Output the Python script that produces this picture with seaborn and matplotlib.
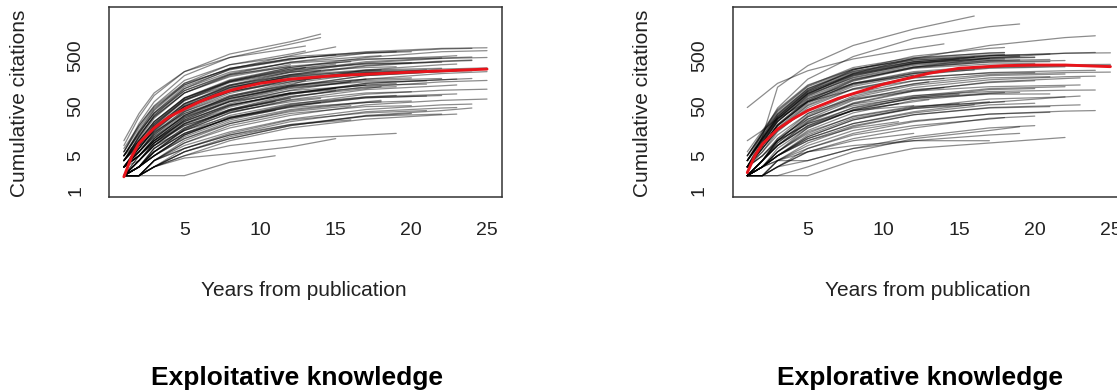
import numpy as np
import pandas as pd
import matplotlib
matplotlib.use("Agg")
import matplotlib.pyplot as plt
from matplotlib.ticker import NullLocator
import seaborn as sns

KNOTS = [1, 2, 3, 5, 8, 12, 17, 22]

exploit_ends = [11, 12, 12, 11, 12, 11, 12,
                14, 14, 13, 15, 13, 15, 14, 13, 15, 15, 16, 17, 14, 16, 13, 16, 17, 15, 14, 13, 15, 14, 16, 17,
                19, 20, 18, 19, 21, 22, 20, 21, 21, 18, 19, 20, 21, 22, 20, 18, 22, 19, 20, 22, 21, 19, 20, 18,
                22, 21, 20, 19, 22, 21, 18, 20,
                24, 25, 23, 25, 24, 23, 25, 23, 24, 25, 23, 25, 24, 23, 23, 24, 25, 24, 25, 23, 24, 25, 23, 24]
exploit_paths = [
    [2, 2, 2, 2, 3.7, 5], [4, 12, 30, 90, 200, 330], [3, 5, 9, 22, 42, 70], [2, 4, 8, 20, 40, 60],
    [5, 15, 35, 100, 210, 300], [2, 3, 6, 14, 28, 40], [3, 6, 12, 30, 60, 90],
    [8, 30, 80, 240, 540, 950, 1350], [6, 22, 60, 200, 460, 850, 1150], [5, 16, 42, 140, 330, 540, 620],
    [4, 12, 32, 110, 270, 500, 750], [7, 20, 48, 140, 270, 410, 460], [3, 8, 20, 65, 150, 270, 340],
    [5, 10, 22, 65, 130, 210, 250], [3, 6, 12, 35, 75, 130, 160], [2, 3, 6, 17, 40, 72, 100],
    [2, 2, 3, 4.5, 5.5, 7.5, 11], [2, 3, 5, 11, 22, 38, 50], [3, 6, 13, 38, 80, 130, 170],
    [4, 9, 18, 48, 95, 150, 180], [2, 2, 4, 7, 13, 21, 26], [10, 35, 90, 240, 460, 700, 780],
    [5, 13, 30, 90, 190, 310, 380], [4, 9, 18, 45, 95, 160, 210], [3, 5, 10, 25, 52, 85, 110],
    [2, 3, 6, 14, 28, 48, 58], [4, 10, 24, 70, 150, 250, 290], [6, 18, 45, 130, 280, 430, 520],
    [3, 5, 9, 20, 38, 60, 70], [4, 8, 15, 35, 70, 120, 150], [2, 4, 8, 22, 50, 90, 130],
    [2, 2, 3, 5, 8, 11, 13, 14], [5, 15, 40, 130, 280, 440, 560, 600], [4, 12, 32, 100, 220, 370, 480, 500],
    [3, 8, 20, 62, 145, 235, 290, 300], [3, 7, 16, 50, 115, 195, 250, 260], [4, 10, 24, 72, 155, 255, 340, 370],
    [2, 5, 10, 30, 70, 125, 170, 180], [3, 5, 11, 32, 70, 115, 150, 158], [2, 4, 9, 26, 60, 100, 128, 135],
    [2, 3, 7, 18, 42, 77, 110, 120], [2, 3, 6, 14, 32, 55, 75, 80], [2, 2, 4, 9, 20, 35, 48, 50],
    [2, 2, 3, 7, 14, 26, 36, 40], [2, 2, 3, 6, 12, 21, 31, 34], [2, 2, 3, 6, 11, 20, 31, 35],
    [3, 4, 8, 16, 30, 46, 58, 60], [5, 14, 36, 110, 235, 355, 430, 450], [6, 20, 50, 160, 330, 480, 580, 600],
    [3, 6, 13, 38, 88, 165, 230, 240], [3, 7, 18, 55, 125, 205, 260, 280], [4, 8, 19, 55, 118, 185, 230, 235],
    [3, 5, 10, 24, 52, 88, 115, 120], [2, 3, 7, 16, 36, 64, 90, 95], [2, 3, 5, 11, 24, 42, 60, 64],
    [2, 3, 5, 12, 26, 48, 72, 80], [3, 6, 14, 40, 95, 170, 240, 250], [4, 9, 22, 70, 160, 270, 350, 360],
    [2, 4, 8, 22, 50, 90, 130, 140], [3, 5, 10, 28, 62, 110, 160, 175], [2, 3, 5, 13, 28, 50, 72, 78],
    [3, 7, 16, 48, 110, 190, 250, 260], [2, 2, 4, 10, 22, 40, 58, 62],
    [4, 11, 28, 90, 210, 370, 560, 680, 700], [3, 8, 21, 65, 155, 290, 460, 600, 630],
    [4, 10, 24, 72, 165, 290, 420, 480, 500], [3, 7, 17, 52, 125, 230, 360, 440, 460],
    [3, 6, 14, 42, 105, 200, 310, 380, 400], [2, 5, 11, 32, 78, 150, 260, 330, 340],
    [2, 4, 9, 24, 55, 102, 170, 220, 240], [2, 3, 7, 18, 42, 84, 140, 165, 170],
    [2, 4, 8, 21, 47, 88, 140, 165, 175], [2, 3, 5, 13, 29, 53, 85, 102, 107],
    [2, 3, 5, 13, 29, 51, 75, 84, 86], [2, 2, 4, 9, 18, 32, 52, 64, 68],
    [2, 2, 4, 8, 15, 27, 42, 52, 54], [2, 2, 4, 7, 13, 24, 38, 45, 46],
    [2, 2, 3, 5, 10, 18, 27, 33, 34], [2, 2, 3, 6, 11, 20, 32, 40, 45],
    [5, 14, 36, 120, 260, 430, 600, 700, 720], [3, 6, 15, 48, 115, 210, 320, 390, 410],
    [3, 5, 11, 32, 75, 140, 220, 270, 285], [2, 4, 9, 26, 62, 120, 200, 240, 250],
    [3, 5, 10, 28, 66, 125, 200, 240, 250], [2, 3, 6, 17, 40, 75, 120, 150, 160],
    [2, 3, 6, 16, 36, 66, 105, 125, 130], [3, 7, 17, 55, 130, 240, 380, 450, 470],
]

explore_ends = [11, 12, 12, 11, 12,
                16, 14, 17, 15, 13, 17, 16, 17, 16, 15, 14, 13, 15, 14, 16,
                19, 18, 18, 21, 22, 20, 21, 20, 22, 21, 20, 21, 18, 21, 21, 20, 20, 19, 18, 22, 19,
                18, 19, 18, 20, 22, 21, 20, 19, 22, 18, 19, 20, 18, 21, 22, 19, 20,
                24, 24, 23, 24, 24, 23, 25, 25, 24, 25, 23, 23, 25, 24]
explore_paths = [
    [2, 3, 5, 10, 18, 24], [3, 5, 10, 22, 40, 50], [4, 10, 25, 70, 140, 200], [2, 4, 8, 20, 40, 55],
    [2, 2, 3, 6, 10, 14],
    [3, 12, 117, 316, 800, 1700, 3100], [46, 80, 140, 250, 430, 700, 860], [2, 3, 4, 6, 8, 10, 10],
    [2, 3, 6, 15, 30, 47, 55], [3, 7, 16, 42, 85, 135, 150], [4, 11, 28, 90, 210, 350, 440],
    [6, 16, 42, 130, 270, 410, 470], [2, 3, 5, 12, 26, 44, 60], [2, 3, 5, 13, 28, 44, 52],
    [3, 5, 11, 27, 50, 74, 85], [10, 16, 28, 60, 105, 158, 175], [2, 4, 8, 19, 40, 60, 66],
    [5, 14, 35, 110, 240, 380, 430], [3, 6, 13, 35, 70, 105, 115], [3, 8, 20, 60, 135, 220, 260],
    [4, 14, 45, 170, 480, 1100, 1900, 2150], [4, 11, 30, 100, 260, 490, 700, 730],
    [5, 13, 34, 110, 260, 440, 570, 580], [3, 9, 24, 80, 195, 345, 500, 540],
    [3, 8, 20, 63, 155, 285, 380, 400], [4, 11, 28, 88, 205, 355, 440, 460],
    [3, 8, 21, 68, 165, 295, 400, 420], [3, 7, 16, 50, 110, 185, 225, 230],
    [2, 4, 10, 32, 78, 138, 200, 215], [2, 4, 10, 30, 73, 128, 180, 190],
    [2, 4, 8, 24, 57, 102, 145, 158], [2, 3, 6, 18, 42, 70, 85, 86],
    [2, 3, 6, 14, 31, 49, 58, 60], [2, 2, 4, 9, 19, 33, 45, 48],
    [2, 2, 4, 7, 14, 24, 34, 37], [2, 2, 3, 6, 11, 18, 28, 31],
    [2, 2, 3, 4, 7, 12, 18, 20], [2, 2, 2, 3, 6, 11, 16, 19],
    [2, 2, 3, 7, 13, 20, 27, 29], [2, 2, 2, 2, 4, 7, 9, 11.6], [2, 3, 4, 4, 7, 10, 13, 14],
    [5, 15, 40, 125, 290, 460, 560, 570], [4, 12, 33, 105, 245, 405, 500, 510],
    [3, 10, 27, 88, 200, 335, 420, 430], [3, 9, 24, 74, 170, 280, 340, 350],
    [3, 7, 17, 52, 122, 205, 280, 300], [4, 10, 27, 84, 180, 298, 370, 380],
    [2, 3, 7, 18, 41, 73, 105, 110], [2, 3, 6, 16, 36, 64, 88, 92],
    [2, 4, 8, 20, 46, 78, 110, 120], [3, 5, 10, 22, 45, 70, 90, 92],
    [4, 12, 32, 100, 230, 380, 470, 480], [4, 11, 30, 95, 215, 360, 450, 470],
    [5, 14, 38, 120, 270, 430, 520, 530], [3, 8, 20, 60, 140, 240, 310, 320],
    [2, 3, 5, 12, 26, 46, 68, 75], [3, 9, 24, 78, 185, 320, 400, 410], [2, 3, 5, 11, 22, 36, 52, 56],
    [3, 9, 26, 85, 220, 440, 800, 1150, 1250], [3, 8, 21, 64, 160, 295, 450, 560, 580],
    [2, 4, 10, 30, 67, 98, 120, 128, 130], [2, 4, 9, 25, 54, 80, 96, 102, 103],
    [2, 2, 4, 8, 16, 25, 34, 39, 40], [2, 3, 5, 10, 20, 33, 46, 51, 52],
    [4, 11, 30, 95, 220, 375, 500, 560, 570], [3, 8, 20, 60, 140, 228, 290, 310, 315],
    [3, 6, 15, 46, 108, 178, 230, 250, 255], [2, 4, 11, 35, 88, 157, 210, 230, 235],
    [2, 4, 8, 23, 55, 98, 150, 175, 180], [2, 3, 5, 11, 22, 38, 58, 75, 78],
    [3, 7, 18, 56, 130, 220, 300, 330, 335], [2, 4, 9, 27, 64, 115, 165, 190, 195],
]

# fitted average curves (red)
exploit_fit_years = [1, 1.5, 2, 3, 4, 5, 6, 7, 8, 9, 10, 12, 15, 20, 25]
exploit_fit = [1.9, 4.7, 8.9, 18, 30, 43, 60, 79, 100, 120, 140, 170, 200, 235, 270]
explore_fit_years = [1, 1.5, 2, 3, 4, 5, 7, 10, 13, 15, 18, 20, 22, 25]
explore_fit = [2.3, 5, 8.6, 17, 27, 40, 70, 135, 222, 280, 316, 325, 325, 302]

y_ticks = [1, 5, 10, 50, 100, 500, 1000]
y_tick_labels = ["1", "5", "", "50", "", "500", ""]
x_ticks = [5, 10, 15, 20, 25]


def to_long(ends, paths):
    rows = []
    for i, (end, ys) in enumerate(zip(ends, paths)):
        xs = [k for k in KNOTS if k < end] + [end]
        assert len(xs) == len(ys), (i, end, ys)
        for x, y in zip(xs, ys):
            rows.append({"paper": i, "year": x, "cites": y})
    return pd.DataFrame(rows)


def draw_panel(ax, ends, paths, fit_years, fit_vals):
    df = to_long(ends, paths)
    ax.set_yscale("log")
    sns.lineplot(data=df, x="year", y="cites", units="paper", estimator=None,
                 color="black", alpha=0.45, linewidth=0.9, legend=False, ax=ax)
    sns.lineplot(x=fit_years, y=fit_vals, color="#e8141b", linewidth=2.1, ax=ax)
    ax.set_xlim(0.04, 25.96)
    ax.set_ylim(0.75, 4700)
    ax.set_xticks(x_ticks)
    ax.set_yticks(y_ticks)
    ax.set_yticklabels(y_tick_labels, rotation=90, va="center")
    ax.yaxis.set_minor_locator(NullLocator())
    ax.set_xlabel("")
    ax.set_ylabel("")
    ax.tick_params(direction="out", length=7, width=1.0, color="#333333",
                   labelsize=14, labelcolor="#222222")
    ax.tick_params(axis="x", pad=11)
    ax.tick_params(axis="y", pad=11)
    for sp in ax.spines.values():
        sp.set_visible(True)
        sp.set_color("#333333")
        sp.set_linewidth(1.1)


sns.set_theme(style="white")
plt.rcParams["font.family"] = ["Liberation Sans", "DejaVu Sans"]

fig = plt.figure(figsize=(11.17, 3.91), dpi=100)
ax1 = fig.add_axes([0.0979, 0.4962, 0.3511, 0.4859])
ax2 = fig.add_axes([0.6560, 0.4962, 0.3511, 0.4859])

draw_panel(ax1, exploit_ends, exploit_paths, exploit_fit_years, exploit_fit)
draw_panel(ax2, explore_ends, explore_paths, explore_fit_years, explore_fit)

W, H = 1117, 391
for cx_lab, cx_ax, cx_title, title in [(20, 304, 297, "Exploitative knowledge"),
                                        (643, 928, 920, "Explorative knowledge")]:
    fig.text(cx_lab / W, 1 - 103 / H, "Cumulative citations", rotation=90,
             ha="center", va="center", fontsize=15, color="#222222")
    fig.text(cx_ax / W, 1 - 296 / H, "Years from publication", ha="center",
             va="baseline", fontsize=15, color="#222222")
    fig.text(cx_title / W, 1 - 385 / H, title, ha="center", va="baseline",
             fontsize=19, fontweight="bold", color="black")

fig.savefig("out.png", dpi=100)
